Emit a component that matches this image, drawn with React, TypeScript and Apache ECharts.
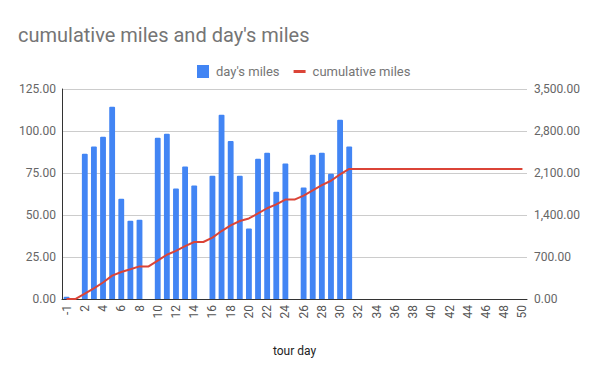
import React, { useEffect, useRef } from "react";
import * as echarts from "echarts";

const days = [
  "-1", "1", "2", "3", "4", "5", "6", "7", "8", "9", "10",
  "11", "12", "13", "14", "15", "16", "17", "18", "19", "20",
  "21", "22", "23", "24", "25", "26", "27", "28", "29", "30",
  "31", "32", "33", "34", "35", "36", "37", "38", "39", "40",
  "41", "42", "43", "44", "45", "46", "47", "48", "49", "50",
];

const daysMiles = [
  1.4, null, 86.5, 90.7, 96.6, 114.5, 59.7, 46.6, 47.2, null, 96.0,
  98.4, 65.7, 78.8, 67.5, null, 73.4, 109.7, 94.0, 73.4, 41.9,
  83.5, 87.1, 63.9, 80.6, null, 66.3, 85.9, 87.1, 74.6, 106.7,
  90.7, null, null, null, null, null, null, null, null, null,
  null, null, null, null, null, null, null, null, null, null,
];

const cumulativeMiles = [
  1.4, 1.4, 87.9, 178.6, 275.2, 389.7, 449.4, 496.0, 543.2, 543.2, 639.2,
  737.6, 803.3, 882.1, 949.6, 949.6, 1023.0, 1132.7, 1226.7, 1300.1, 1342.0,
  1425.5, 1512.6, 1576.5, 1657.1, 1657.1, 1723.4, 1809.3, 1896.4, 1971.0, 2077.7,
  2168.4, 2168.4, 2168.4, 2168.4, 2168.4, 2168.4, 2168.4, 2168.4, 2168.4, 2168.4,
  2168.4, 2168.4, 2168.4, 2168.4, 2168.4, 2168.4, 2168.4, 2168.4, 2168.4, 2168.4,
];

const FONT = "Roboto";

export default function App() {
  const ref = useRef<HTMLDivElement>(null);
  useEffect(() => {
    if (!ref.current) return;
    const chart = echarts.init(ref.current, null, { renderer: "svg" });
    chart.setOption({
      animation: false,
      textStyle: { fontFamily: FONT },
      title: {
        text: "cumulative miles and day's miles",
        left: 13,
        top: 20,
        textStyle: { fontFamily: FONT, fontSize: 20, fontWeight: "normal", color: "#757575" },
      },
      legend: {
        left: 192,
        top: 60,
        itemWidth: 12,
        itemHeight: 13,
        itemGap: 14,
        textStyle: { fontFamily: FONT, fontSize: 13, color: "#757575", padding: [0, 0, 0, 2] },
        data: [
          { name: "day's miles", icon: "rect" },
          { name: "cumulative miles", icon: "path://M0,0h12v3h-12z" },
        ],
      },
      grid: { left: 62, right: 73, top: 89, bottom: 72, containLabel: false },
      xAxis: {
        type: "category",
        data: days,
        boundaryGap: true,
        name: "tour day",
        nameLocation: "middle",
        nameGap: 46,
        nameTextStyle: { fontFamily: FONT, fontSize: 12, color: "#222" },
        axisLine: { show: true, lineStyle: { color: "#333", width: 1 } },
        axisTick: { show: false },
        axisLabel: {
          interval: 1,
          rotate: 90,
          fontFamily: FONT,
          fontSize: 12,
          color: "#555",
          margin: 6,
        },
      },
      yAxis: [
        {
          type: "value",
          min: 0,
          max: 125,
          interval: 25,
          axisLine: { show: true, lineStyle: { color: "#333" } },
          axisTick: { show: false },
          axisLabel: {
            fontFamily: FONT,
            fontSize: 12,
            color: "#666",
            margin: 6,
            formatter: (v: number) => v.toFixed(2),
          },
          splitLine: { lineStyle: { color: "#ccc" } },
        },
        {
          type: "value",
          min: 0,
          max: 3500,
          interval: 700,
          position: "right",
          axisLine: { show: false },
          axisTick: { show: false },
          axisLabel: {
            fontFamily: FONT,
            fontSize: 12,
            color: "#666",
            margin: 7,
            formatter: (v: number) =>
              v.toLocaleString("en-US", { minimumFractionDigits: 2, maximumFractionDigits: 2 }),
          },
          splitLine: { show: false },
        },
      ],
      series: [
        {
          name: "day's miles",
          type: "bar",
          yAxisIndex: 0,
          data: daysMiles,
          barWidth: "64%",
          itemStyle: { color: "#4285F4", borderRadius: [1, 1, 0, 0] },
        },
        {
          name: "cumulative miles",
          type: "line",
          yAxisIndex: 1,
          data: cumulativeMiles,
          showSymbol: false,
          symbol: "none",
          lineStyle: { color: "#DB4437", width: 2 },
          itemStyle: { color: "#DB4437" },
        },
      ],
    });
    return () => chart.dispose();
  }, []);
  return <div ref={ref} style={{ width: 600, height: 371, margin: -8 }} />;
}
